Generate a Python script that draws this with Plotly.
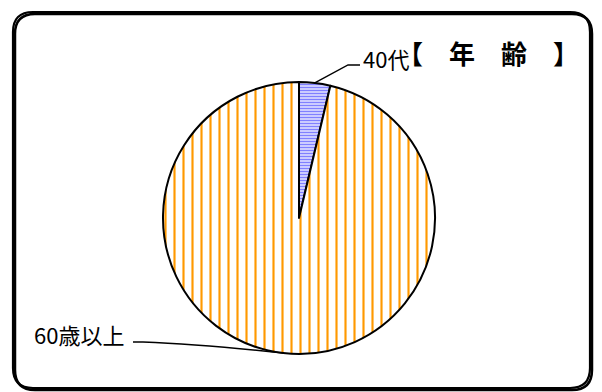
import math
from plotly import graph_objects as go

# data
labels = ['40代', '60歳以上']
values = [1, 26]
fg_colors = ['#8080ff', '#ff9900']
shapes_pat = ['-', '|']
title_text = '<b>【　年　齢　】</b>'

# page body has an 8px margin, so the figure is a bit smaller and shifted
OFF = 8
W, H = 594, 384

# pie geometry in screen px
cx, cy, r = 299, 218, 136


def px(x, y):
    return (x - OFF) / W, 1 - (y - OFF) / H


fig = go.Figure()
x_lo, y_hi = px(cx - r, cy - r)
x_hi, y_lo = px(cx + r, cy + r)
fig.add_trace(go.Pie(
    labels = labels,
    values = values,
    sort = False,
    direction = 'clockwise',
    rotation = 0,
    textinfo = 'none',
    hoverinfo = 'label+percent',
    showlegend = False,
    domain = {'x': [x_lo, x_hi], 'y': [y_lo, y_hi]},
    marker = {
        'colors': ['white', 'white'],
        'line': {'color': 'black', 'width': 2},
        'pattern': {
            'shape': shapes_pat,
            'fgcolor': fg_colors,
            'bgcolor': ['white', 'white'],
            'fgopacity': 1,
            'size': [3, 9],
            'solidity': [0.6, 0.24],
            'fillmode': 'replace'
        }
    }))

# leader lines from slice midpoints
total = sum(values)
mid = []
acc = 0
for v in values:
    a = (acc + v / 2) / total * 2 * math.pi
    mid.append((cx + r * math.sin(a), cy - r * math.cos(a)))
    acc += v

shapes = []
# 40代 leader
x0, y0 = mid[0]
p0 = px(x0, y0); p1 = px(348, 65); p2 = px(360, 65)
shapes.append(dict(type = 'path', xref = 'paper', yref = 'paper',
                   path = f'M {p0[0]},{p0[1]} L {p1[0]},{p1[1]} L {p2[0]},{p2[1]}',
                   line = {'color': 'black', 'width': 1.4}))
# 60歳以上 leader
x0, y0 = mid[1]
p0 = px(x0, y0); p1 = px(143, 342); p2 = px(133, 342); c = px(200, 344)
shapes.append(dict(type = 'path', xref = 'paper', yref = 'paper',
                   path = f'M {p0[0]},{p0[1]} Q {c[0]},{c[1]} {p1[0]},{p1[1]} L {p2[0]},{p2[1]}',
                   line = {'color': 'black', 'width': 1.4}))


# rounded frame (quadratic corners)
def rounded(l, t, rr, b, rad):
    segs = [
        ('M', [(l + rad, t)]),
        ('L', [(rr - rad, t)]), ('Q', [(rr, t), (rr, t + rad)]),
        ('L', [(rr, b - rad)]), ('Q', [(rr, b), (rr - rad, b)]),
        ('L', [(l + rad, b)]), ('Q', [(l, b), (l, b - rad)]),
        ('L', [(l, t + rad)]), ('Q', [(l, t), (l + rad, t)]),
    ]
    out = []
    for cmd, pts in segs:
        out.append(cmd + ' ' + ' '.join('{:.5f},{:.5f}'.format(*px(*p)) for p in pts))
    return ' '.join(out) + ' Z'


shapes.append(dict(type = 'path', xref = 'paper', yref = 'paper',
                   path = rounded(15, 14, 592, 390, 20),
                   line = {'color': 'black', 'width': 2.5}))
shapes.append(dict(type = 'path', xref = 'paper', yref = 'paper',
                   path = rounded(13, 12, 590, 388, 20),
                   line = {'color': 'black', 'width': 2.2}))

tx, ty = px(488, 52)
l1x, l1y = px(361, 58)
l2x, l2y = px(32, 334)
fig.update_layout(
    width = W, height = H,
    margin = {'l': 0, 'r': 0, 't': 0, 'b': 0},
    paper_bgcolor = 'white',
    plot_bgcolor = 'white',
    shapes = shapes,
    annotations = [
        dict(text = title_text, xref = 'paper', yref = 'paper', x = tx, y = ty,
             xanchor = 'center', yanchor = 'middle', showarrow = False,
             font = {'size': 26, 'color': 'black', 'family': 'Noto Sans CJK JP'}),
        dict(text = labels[0], xref = 'paper', yref = 'paper', x = l1x, y = l1y,
             xanchor = 'left', yanchor = 'middle', showarrow = False,
             font = {'size': 22, 'color': 'black', 'family': 'Noto Sans CJK JP'}),
        dict(text = labels[1], xref = 'paper', yref = 'paper', x = l2x, y = l2y,
             xanchor = 'left', yanchor = 'middle', showarrow = False,
             font = {'size': 22, 'color': 'black', 'family': 'Noto Sans CJK JP'}),
    ]
)

fig.write_html("out.html")
